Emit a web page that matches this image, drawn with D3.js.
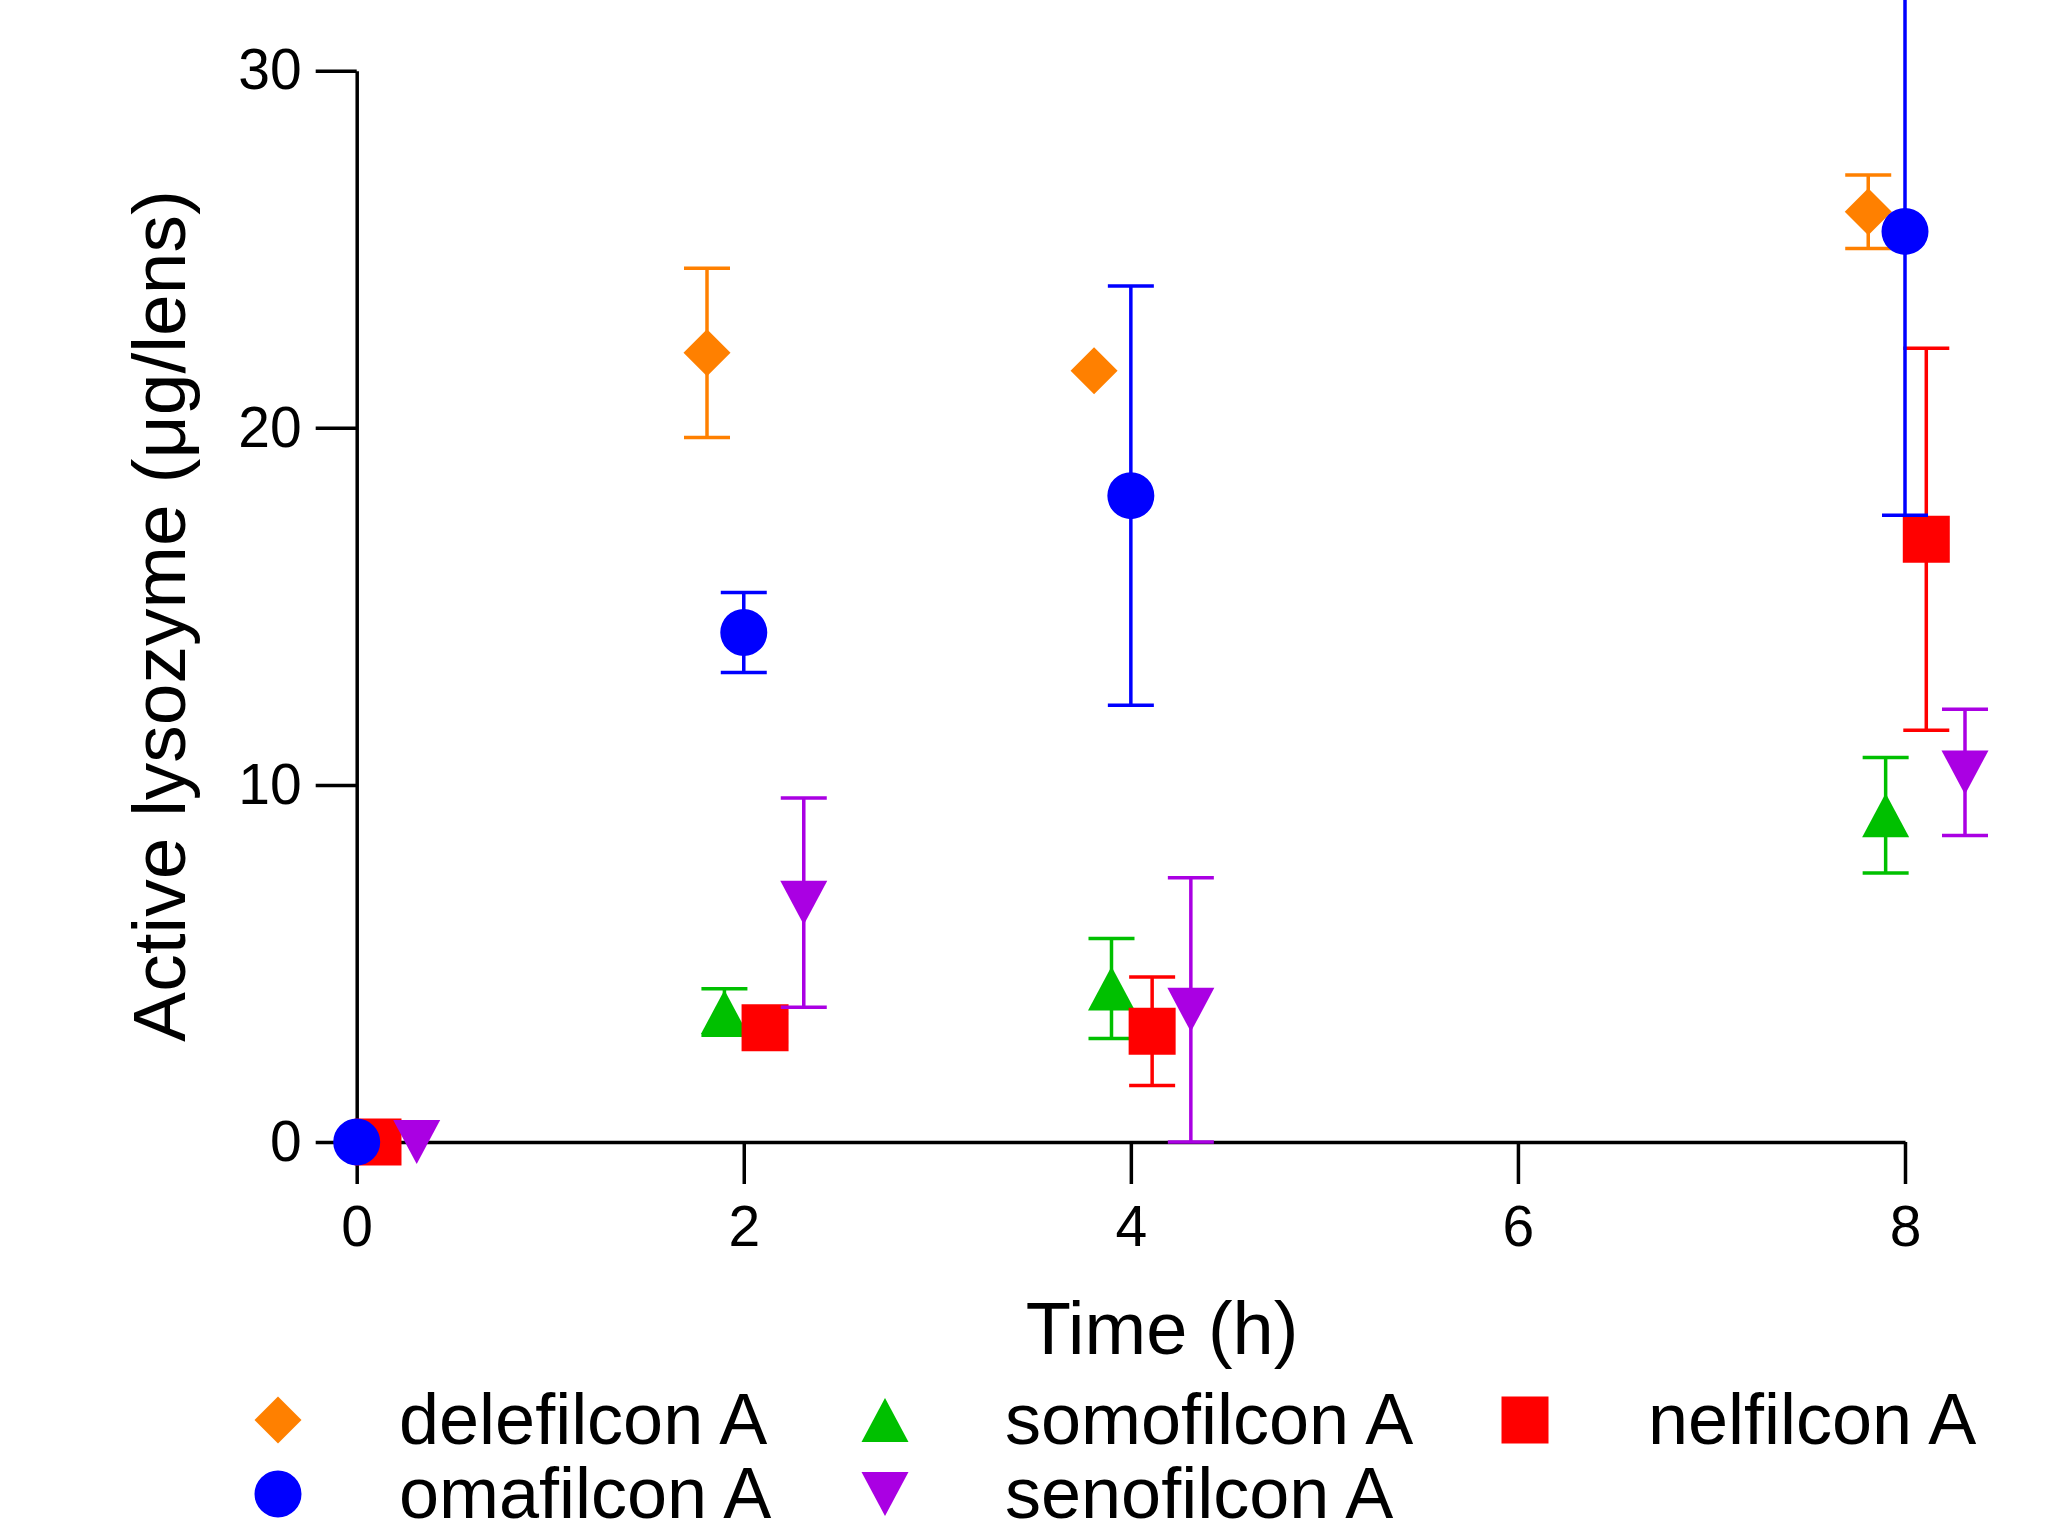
<!DOCTYPE html>
<meta charset="utf-8">
<style>
  body { margin: 0; background: white; }
  svg text { font-family: 'Liberation Sans', Arial, sans-serif; fill: black; }
</style>
<svg width="2056" height="1533"></svg>
<script src="https://d3js.org/d3.v7.min.js"></script>
<script>

// data
var times = [0, 2, 4, 8];
var xTicks = [0, 2, 4, 6, 8];
var yTicks = [0, 10, 20, 30];

var delefilconMean = [0, 22.1, 21.6, 26.05],
    delefilconSD   = [0, 2.37, 0, 1.03];
var omafilconMean  = [0, 14.27, 18.1, 25.5],
    omafilconSD    = [0, 1.12, 5.87, 7.95];
var somofilconMean = [0, 3.64, 4.3, 9.15],
    somofilconSD   = [0, 0.65, 1.4, 1.62];
var nelfilconMean  = [0, 3.2, 3.1, 16.88],
    nelfilconSD    = [0, 0.4, 1.52, 5.35];
var senofilconMean = [0, 6.7, 3.7, 10.35],
    senofilconSD   = [0, 2.93, 3.7, 1.77];

// draw order (later on top) and legend order
var series = [
    { name: "delefilcon A", mean: delefilconMean, sd: delefilconSD, color: "#ff8000", shape: "diamond", dx: -0.19 },
    { name: "somofilcon A", mean: somofilconMean, sd: somofilconSD, color: "#00c000", shape: "up", dx: -0.1 },
    { name: "nelfilcon A",  mean: nelfilconMean,  sd: nelfilconSD,  color: "#ff0000", shape: "square", dx: 0.11 },
    { name: "omafilcon A",  mean: omafilconMean,  sd: omafilconSD,  color: "#0000ff", shape: "circle", dx: 0 },
    { name: "senofilcon A", mean: senofilconMean, sd: senofilconSD, color: "#aa00e3", shape: "down", dx: 0.31 }
];

var svg = d3.select("svg");

var x = d3.scaleLinear().domain([0, 8]).range([356.7, 1905]);
var y = d3.scaleLinear().domain([0, 30]).range([1142, 70.7]);

function shapePath(shape) {
    var h = 23.5;
    if (shape == "diamond") return "M0," + (-h) + "L" + h + ",0L0," + h + "L" + (-h) + ",0Z";
    if (shape == "circle") return d3.symbol(d3.symbolCircle, Math.PI * h * h)();
    if (shape == "square") return d3.symbol(d3.symbolSquare, (2 * h) * (2 * h))();
    if (shape == "up") return "M0,-22L" + h + ",22L" + (-h) + ",22Z";
    if (shape == "down") return "M" + (-h) + ",-22L" + h + ",-22L0,22Z";
}

// axes
var xAxis = svg.append("g")
    .attr("transform", "translate(0," + y(0) + ")")
    .call(d3.axisBottom(x).tickValues(xTicks).tickSize(42).tickSizeOuter(0).tickPadding(22));

var yAxis = svg.append("g")
    .attr("transform", "translate(" + x(0) + ",0)")
    .call(d3.axisLeft(y).tickValues(yTicks).tickSize(41).tickSizeOuter(0).tickPadding(14));

[xAxis, yAxis].forEach(function (a) {
    a.attr("font-size", null).attr("font-family", null);
    a.select(".domain").attr("stroke-width", 3.5);
    a.selectAll(".tick line").attr("stroke-width", 3.5);
    a.selectAll(".tick text").style("font-size", "57px");
});

// points with error bars
var capW = 46;
series.forEach(function (s) {
    var pts = times.map(function (t, i) {
        return { t: t + s.dx, m: s.mean[i], sd: s.sd[i] };
    }).filter(function (p) { return p.t >= 0; });

    var g = svg.append("g").attr("stroke", s.color).attr("fill", s.color);

    var eb = g.selectAll(".eb").data(pts.filter(function (p) { return p.sd > 0; }))
        .enter().append("g")
        .attr("class", "eb")
        .attr("stroke-width", 3.5);
    eb.append("line")
        .attr("x1", function (d) { return x(d.t); })
        .attr("x2", function (d) { return x(d.t); })
        .attr("y1", function (d) { return y(d.m - d.sd); })
        .attr("y2", function (d) { return y(d.m + d.sd); });
    eb.append("line")
        .attr("x1", function (d) { return x(d.t) - capW / 2; })
        .attr("x2", function (d) { return x(d.t) + capW / 2; })
        .attr("y1", function (d) { return y(d.m + d.sd); })
        .attr("y2", function (d) { return y(d.m + d.sd); });
    eb.append("line")
        .attr("x1", function (d) { return x(d.t) - capW / 2; })
        .attr("x2", function (d) { return x(d.t) + capW / 2; })
        .attr("y1", function (d) { return y(d.m - d.sd); })
        .attr("y2", function (d) { return y(d.m - d.sd); });

    g.selectAll(".pt").data(pts).enter().append("path")
        .attr("class", "pt")
        .attr("stroke", "none")
        .attr("transform", function (d) { return "translate(" + x(d.t) + "," + y(d.m) + ")"; })
        .attr("d", shapePath(s.shape));
});

// axis titles
svg.append("text")
    .attr("x", 1162).attr("y", 1354)
    .attr("text-anchor", "middle")
    .style("font-size", "74px")
    .text("Time (h)");

svg.append("text")
    .attr("transform", "translate(185,616) rotate(-90)")
    .attr("text-anchor", "middle")
    .style("font-size", "75px")
    .text("Active lysozyme (\u03bcg/lens)");

// legend, three per row
var legSymX = [278, 885, 1525],
    legTextX = [399, 1005, 1648],
    legRowY = [1420, 1494];

var leg = svg.selectAll(".leg").data(series).enter().append("g")
    .attr("class", "leg")
    .attr("transform", function (d, i) {
        return "translate(0," + legRowY[i < 3 ? 0 : 1] + ")";
    });
// row-major: dele, somo, nel / oma, seno
function legCol(i) { return i < 3 ? i : i - 3; }
leg.append("path")
    .attr("transform", function (d, i) { return "translate(" + legSymX[legCol(i)] + ",0)"; })
    .attr("d", function (d) { return shapePath(d.shape); })
    .attr("fill", function (d) { return d.color; });
leg.append("text")
    .attr("x", function (d, i) { return legTextX[legCol(i)]; })
    .attr("y", 24)
    .style("font-size", "72px")
    .text(function (d) { return d.name; });

</script>
